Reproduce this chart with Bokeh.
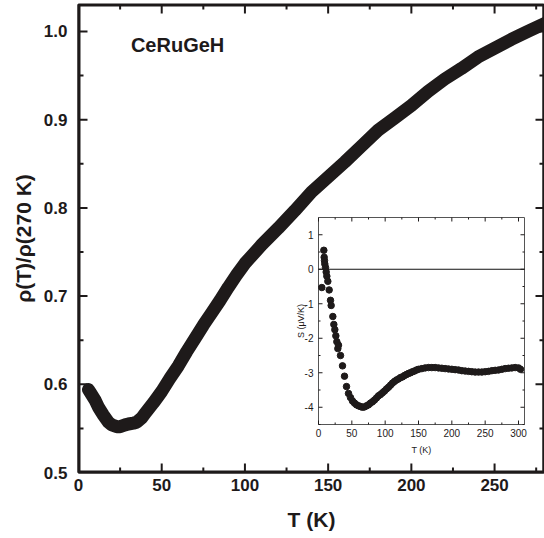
import math
from bokeh.plotting import figure
from bokeh.models import SingleIntervalTicker, PrintfTickFormatter, Range1d, Label
from bokeh.core.properties import value
from bokeh.embed import file_html
from bokeh.resources import INLINE

# ---- main panel: normalised resistivity ----
T_rho = [6, 7, 10, 12, 15, 18, 20, 23, 25, 28, 30, 33, 35, 38, 40, 45, 50, 55, 60,
         65, 70, 75, 80, 85, 90, 95, 100, 110, 120, 130, 140, 150, 160, 170, 180,
         190, 200, 210, 220, 230, 240, 250, 260, 270, 280]
rho = [0.594, 0.591, 0.582, 0.574, 0.565, 0.557, 0.554, 0.552, 0.552, 0.554, 0.555,
       0.556, 0.557, 0.562, 0.567, 0.579, 0.592, 0.607, 0.621, 0.637, 0.652, 0.667,
       0.681, 0.695, 0.710, 0.724, 0.737, 0.758, 0.777, 0.797, 0.818, 0.835, 0.852,
       0.870, 0.888, 0.902, 0.916, 0.932, 0.946, 0.958, 0.971, 0.981, 0.991, 1.000,
       1.009]
x_major = [0, 50, 100, 150, 200, 250]
x_minor = [25, 75, 125, 175, 225, 275]
y_major = [0.5, 0.6, 0.7, 0.8, 0.9, 1.0]
y_minor = [0.55, 0.65, 0.75, 0.85, 0.95]
X0, X1 = 0, 280
Y0, Y1 = 0.5, 1.0306

# ---- inset: thermopower ----
T_S = [5, 8, 8.5, 9, 9.5, 10.5, 11.5, 12.5, 14, 16, 18, 19, 21.5, 23, 24.5, 26,
       27.5, 29, 30, 33, 36, 39, 42, 45, 48, 51, 54, 57, 60, 63, 66, 69, 72, 75,
       78, 81, 84, 87, 90, 93, 96, 99, 102, 105, 108, 111, 114, 117, 120, 123,
       126, 129, 132, 135, 138, 141, 144, 147, 150, 155, 160, 165, 170, 175, 180,
       185, 190, 195, 200, 205, 210, 215, 220, 225, 230, 235, 240, 245, 250, 255,
       260, 265, 270, 275, 280, 285, 290, 295, 300, 303]
S = [-0.53, 0.55, 0.35, 0.25, 0.15, 0.05, -0.08, -0.2, -0.35, -0.6, -0.9, -1.05,
     -1.37, -1.6, -1.75, -1.93, -2.1, -2.3, -2.2, -2.5, -2.8, -3.1, -3.4, -3.6,
     -3.72, -3.82, -3.88, -3.93, -3.96, -3.98, -4.0, -3.99, -3.96, -3.93, -3.88,
     -3.84, -3.79, -3.73, -3.67, -3.63, -3.58, -3.53, -3.47, -3.42, -3.36, -3.30,
     -3.25, -3.21, -3.18, -3.14, -3.12, -3.08, -3.05, -3.02, -3.00, -2.97, -2.95,
     -2.92, -2.90, -2.88, -2.86, -2.85, -2.85, -2.85, -2.86, -2.87, -2.88, -2.89,
     -2.90, -2.91, -2.92, -2.94, -2.95, -2.96, -2.97, -2.98, -2.98, -2.98, -2.97,
     -2.96, -2.94, -2.93, -2.92, -2.90, -2.88, -2.87, -2.86, -2.85, -2.86, -2.90]
ix_major = [0, 50, 100, 150, 200, 250, 300]
ix_labels = ["0", "50", "100", "150", "200", "250", "300"]
ix_minor = [25, 75, 125, 175, 225, 275]
iy_major = [-4, -3, -2, -1, 0, 1]
iy_labels = ["-4", "-3", "-2", "-1", "0", "1"]
iy_minor = [-4.5, -3.5, -2.5, -1.5, -0.5, 0.5]
IX0, IX1 = 0, 309
IY0, IY1 = -4.5, 1.5

FONT = "Liberation Sans"
INK = "#1e1a1a"

# layout (pixels)
FIG_W, FIG_H = 544, 538
B_LEFT, B_RIGHT, B_TOP, B_BOTTOM = 78, 0, 4, 66
FW, FH = FIG_W - B_LEFT - B_RIGHT, FIG_H - B_TOP - B_BOTTOM
# inset box inside the main frame (px from frame left / frame bottom)
IN_L, IN_R, IN_B, IN_T = 240, 446, 48, 255

kx = (IX1 - IX0) / (IN_R - IN_L)   # inset data units per pixel
ky = (IY1 - IY0) / (IN_T - IN_B)
ix_range = Range1d(IX0 - IN_L * kx, IX1 + (FW - IN_R) * kx)
iy_range = Range1d(IY0 - IN_B * ky, IY1 + (FH - IN_T) * ky)
mx = (X1 - X0) / FW                # main data units per pixel
my = (Y1 - Y0) / FH


def inward_ticks(fig, xmaj, xmin, ymaj, ymin, x0, x1, y0, y1, ux, uy,
                 lmaj, lmin, lw, **kw):
    """Tick marks pointing into the frame on all four sides (lengths in px)."""
    for xs, ln in ((xmaj, lmaj), (xmin, lmin)):
        n = len(xs)
        fig.segment(x0=xs, y0=[y0] * n, x1=xs, y1=[y0 + ln * uy] * n,
                    line_width=lw, line_color=INK, **kw)
        fig.segment(x0=xs, y0=[y1] * n, x1=xs, y1=[y1 - ln * uy] * n,
                    line_width=lw, line_color=INK, **kw)
    for ys, ln in ((ymaj, lmaj), (ymin, lmin)):
        n = len(ys)
        fig.segment(x0=[x0] * n, y0=ys, x1=[x0 + ln * ux] * n, y1=ys,
                    line_width=lw, line_color=INK, **kw)
        fig.segment(x0=[x1] * n, y0=ys, x1=[x1 - ln * ux] * n, y1=ys,
                    line_width=lw, line_color=INK, **kw)


def inward_tick_bars(fig, xmaj, xmin, ymaj, ymin, x0, x1, y0, y1, ux, uy,
                     lmaj, lmin, lw):
    """Same inward ticks, drawn as small filled bars (lengths in px)."""
    for xs, ln in ((xmaj, lmaj), (xmin, lmin)):
        n = len(xs)
        for yb, sgn in ((y0, 1), (y1, -1)):
            fig.rect(x=xs, y=[yb + sgn * ln * uy / 2] * n, width=lw * ux,
                     height=ln * uy, fill_color=INK, line_color=None)
    for ys, ln in ((ymaj, lmaj), (ymin, lmin)):
        n = len(ys)
        for xb, sgn in ((x0, 1), (x1, -1)):
            fig.rect(x=[xb + sgn * ln * ux / 2] * n, y=ys, width=ln * ux,
                     height=lw * uy, fill_color=INK, line_color=None)


# ---------------- main figure ----------------
p = figure(width=FIG_W, height=FIG_H, output_backend="svg", toolbar_location=None,
           x_range=Range1d(X0, X1), y_range=Range1d(Y0, Y1),
           min_border_left=B_LEFT, min_border_right=B_RIGHT,
           min_border_top=B_TOP, min_border_bottom=B_BOTTOM)
p.extra_x_ranges = {"ix": ix_range}
p.extra_y_ranges = {"iy": iy_range}
p.grid.visible = False
p.outline_line_color = INK
p.outline_line_width = 2
p.background_fill_color = "white"

p.xaxis.ticker = SingleIntervalTicker(interval=50, num_minor_ticks=2)
p.yaxis.ticker = SingleIntervalTicker(interval=0.1, num_minor_ticks=2)
p.yaxis.formatter = PrintfTickFormatter(format="%.1f")
for ax in (p.xaxis[0], p.yaxis[0]):
    ax.major_tick_line_color = None
    ax.minor_tick_line_color = None
    ax.major_tick_in = 0
    ax.major_tick_out = 0
    ax.minor_tick_in = 0
    ax.minor_tick_out = 0
    ax.axis_line_width = 2
    ax.axis_line_color = INK
    ax.major_label_text_font = FONT
    ax.major_label_text_font_style = "bold"
    ax.major_label_text_font_size = "17px"
    ax.major_label_text_color = INK
    ax.axis_label_text_font = FONT
    ax.axis_label_text_font_style = "bold"
    ax.axis_label_text_font_size = "21px"
    ax.axis_label_text_color = INK
p.xaxis.major_label_standoff = 6
p.yaxis.major_label_standoff = 11
p.xaxis.axis_label = "T (K)"
p.yaxis.axis_label = "ρ(T)/ρ(270 K)"
p.xaxis.axis_label_standoff = 14
p.yaxis.axis_label_standoff = 6

# frame box drawn as a glyph (1 px inside the edges) plus inward ticks
p.quad(left=[X0 + mx], right=[X1 - mx], bottom=[Y0 + my], top=[Y1 - my],
       fill_color=None, line_color=INK, line_width=2)
inward_tick_bars(p, x_major, x_minor, y_major, y_minor, X0, X1, Y0, Y1,
                 mx, my, 9, 5, 2)

p.line(T_rho, rho, line_width=13, line_color=INK, line_join="round",
       line_cap="round")

p.add_layout(Label(x=31.5, y=0.9845, text="CeRuGeH", text_font=FONT,
                   text_font_style="bold", text_font_size="20px",
                   text_color=INK, text_baseline="middle"))

# ---------------- inset (drawn on its own ranges) ----------------
R = dict(x_range_name="ix", y_range_name="iy")
p.quad(left=[IX0], right=[IX1], bottom=[IY0], top=[IY1], fill_color="white",
       line_color="#555555", line_width=1, **R)
p.line([IX0, IX1], [0, 0], line_color="#111111", line_width=1, **R)
inward_ticks(p, ix_major, ix_minor, iy_major, iy_minor, IX0, IX1, IY0, IY1,
             kx, ky, 4, 2, 1, **R)
p.scatter(T_S, S, size=6.5, fill_color=INK, line_color=INK, **R)

p.text(x=ix_major, y=[IY0] * len(ix_major), text=ix_labels, y_offset=4,
       text_align="center", text_baseline="top", text_font=value(FONT),
       text_font_size="10px", text_color=INK, **R)
p.text(x=[IX0] * len(iy_major), y=iy_major, text=iy_labels, x_offset=-5,
       text_align="right", text_baseline="middle", text_font=value(FONT),
       text_font_size="10px", text_color=INK, **R)
p.text(x=[(IX0 + IX1) / 2], y=[IY0], text=["T (K)"], y_offset=20,
       text_align="center", text_baseline="top", text_font=value(FONT),
       text_font_size="9px", text_color=INK, **R)
p.text(x=[IX0], y=[(IY0 + IY1) / 2], text=["S (μV/K)"], x_offset=-18,
       angle=math.pi / 2, text_align="center", text_baseline="middle",
       text_font=value(FONT), text_font_size="9px", text_color=INK, **R)

open("out.html", "w").write(file_html(p, INLINE))
